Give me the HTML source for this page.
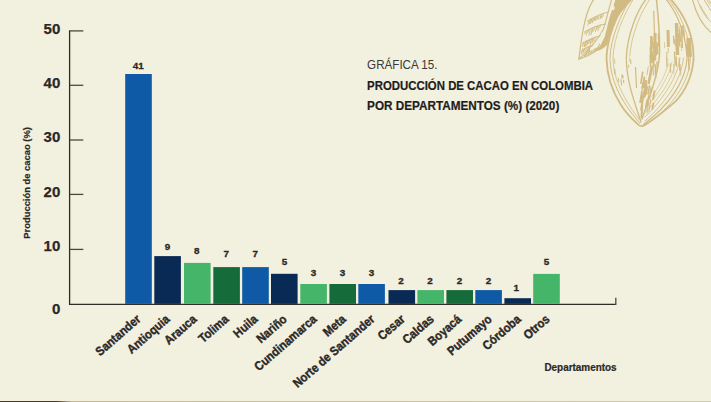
<!DOCTYPE html>
<html><head><meta charset="utf-8"><title>Gráfica 15</title>
<style>
html,body{margin:0;padding:0;background:#f2f0df;}
body{width:711px;height:402px;position:relative;overflow:hidden;}
#bl{position:absolute;left:0;top:401px;width:711px;height:1px;background:linear-gradient(90deg,#4a3a2c 0,#4a3a2c 8%,#cdb58a 10%,#d8c9a4 100%);}
</style></head><body>
<svg width="711" height="402" viewBox="0 0 711 402" style="position:absolute;left:0;top:0">
<g fill="none" stroke="#d2bb82" stroke-width="1.2" stroke-linecap="round" stroke-linejoin="round">
<path d="M627 -2C617 14 607 38 606.5 58C606.8 74 610 88 621 105C626 113 632 119 636.5 123C638.5 125.5 640.5 126.8 643 126C650 122.5 662 113 675.6 101.4C686 90 692 76 693.5 60C694 40 688 18 669.5 -2" stroke-width="1.8"/>
<path d="M631 -2C621 14 610.5 38 610 58C610.5 78 618 98 640 123.5" stroke-width="1"/>
<path d="M634 -2C624 14 613.5 38 613 58C613.5 76 620 94 639.5 120" stroke-width="0.8"/>
<path d="M647 -2C637 10 627 36 626.3 58C626.5 80 633 98 641 122" stroke-width="1.3"/>
<path d="M651 -2C641 10 631 36 629.8 56" stroke-width="0.8"/>
<path d="M656.3 -2C658.5 18 660.2 36 659.4 56C658 74 650 96 642 119" stroke-width="1.5"/>
<path d="M653.7 11L654.5 34" stroke-width="1.2"/>
<path d="M665 -2C677 12 686 34 687 58C686 82 668 106 643.5 124.5" stroke-width="1.2"/>
<path d="M667 -2C680 12 689.5 34 690.4 58C689.5 84 670 109 645.5 125" stroke-width="0.9"/>
<path d="M683.5 58C681 82 664 104 645 121" stroke-width="0.9"/>
<path d="M680 58C677 80 661 101 645 117" stroke-width="0.8"/>
<path d="M676 60C673 80 659 98 646 112" stroke-width="0.7"/>
<path d="M672 62C669 78 657 95 647 107" stroke-width="0.6"/>
<path d="M668 64C665 78 656 91 648 101" stroke-width="0.6"/>
</g>
<g fill="none" stroke="#d2bb82" stroke-linecap="butt">
<path d="M652.8 37.1l0.2 11.2" stroke-width="0.9"/>
<path d="M654.6 44.4l0.1 6.5" stroke-width="1.5"/>
<path d="M650.3 46.7l0.1 6.6" stroke-width="0.9"/>
<path d="M653.6 60.1l0.1 7.0" stroke-width="1.1"/>
<path d="M655.3 64.2l0.2 10.6" stroke-width="1.4"/>
<path d="M658.3 33.6l0.3 12.9" stroke-width="1.2"/>
<path d="M651.2 36.0l0.2 8.5" stroke-width="1.9"/>
<path d="M651.5 51.8l0.2 11.1" stroke-width="1.3"/>
<path d="M654.7 34.1l0.1 6.5" stroke-width="1.1"/>
<path d="M655.8 46.5l0.2 8.5" stroke-width="1.6"/>
<path d="M653.9 42.2l0.2 12.4" stroke-width="1.8"/>
<path d="M652.1 51.5l0.2 10.2" stroke-width="2.0"/>
<path d="M656.2 41.8l0.3 13.8" stroke-width="1.0"/>
<path d="M653.6 57.7l0.1 7.2" stroke-width="1.5"/>
<path d="M650.3 54.7l0.2 12.1" stroke-width="1.6"/>
<path d="M657.4 42.7l0.2 11.6" stroke-width="1.6"/>
<path d="M654.9 47.5l0.3 12.7" stroke-width="2.1"/>
<path d="M654.0 54.6l0.1 6.5" stroke-width="1.8"/>
<path d="M655.5 65.8l0.3 12.6" stroke-width="1.2"/>
<path d="M653.3 54.7l0.1 6.2" stroke-width="1.4"/>
<path d="M651.4 36.0l0.1 6.5" stroke-width="1.9"/>
<path d="M651.1 40.4l0.2 9.1" stroke-width="2.0"/>
<path d="M650.7 47.3l0.2 10.4" stroke-width="2.0"/>
<path d="M657.0 61.4l0.2 8.2" stroke-width="1.4"/>
<path d="M653.0 62.1l0.3 13.7" stroke-width="1.0"/>
<path d="M651.5 39.9l0.2 7.9" stroke-width="1.5"/>
<path d="M655 33V50" stroke-width="3"/>
<path d="M651.5 40V56" stroke-width="2"/>
<path d="M668 30L668.4 47" stroke-width="3"/>
<path d="M668.1 47.9l0.2 5.0" stroke-width="0.9"/>
<path d="M666.6 57.0l0.3 9.8" stroke-width="1.0"/>
<path d="M667.6 58.5l0.3 8.4" stroke-width="0.6"/>
<path d="M670.3 63.4l0.3 9.4" stroke-width="1.1"/>
<path d="M666.7 52.0l0.2 5.5" stroke-width="1.0"/>
<path d="M664.4 42.0l0.2 6.0" stroke-width="0.7"/>
<path d="M676.5 23L677.5 55" stroke-width="3.4"/>
<path d="M681.5 26L682.3 48" stroke-width="1.6"/>
<path d="M688.5 38L689.3 57" stroke-width="4.5"/>
<path d="M679.1 26.2l0.4 6.0" stroke-width="0.8"/>
<path d="M674.8 39.3l0.4 6.2" stroke-width="1.5"/>
<path d="M684.1 30.2l0.5 8.0" stroke-width="0.9"/>
<path d="M679.6 29.2l0.8 12.8" stroke-width="1.6"/>
<path d="M681.4 44.3l0.4 6.7" stroke-width="0.7"/>
<path d="M679.2 35.1l0.8 12.6" stroke-width="0.8"/>
<path d="M673.4 63.9l0.6 10.2" stroke-width="0.7"/>
<path d="M682.8 25.1l0.6 10.2" stroke-width="1.6"/>
<path d="M688.5 53.2l0.5 8.1" stroke-width="1.0"/>
<path d="M676.0 56.4l0.6 10.3" stroke-width="1.4"/>
<path d="M678.9 33.4l0.7 12.5" stroke-width="1.6"/>
<path d="M688.3 57.9l0.8 12.5" stroke-width="1.3"/>
<path d="M677.1 45.7l0.5 8.8" stroke-width="0.6"/>
<path d="M673.5 35.7l0.5 8.1" stroke-width="1.3"/>
<path d="M690.2 42.8l0.8 13.5" stroke-width="1.6"/>
<path d="M690.2 39.3l0.5 7.8" stroke-width="0.8"/>
<path d="M676.5 32.6l0.7 11.0" stroke-width="1.5"/>
<path d="M688.1 44.1l0.7 11.2" stroke-width="1.4"/>
<path d="M674.5 51.7l0.8 13.3" stroke-width="1.4"/>
<path d="M686.5 44.1l0.4 7.4" stroke-width="1.4"/>
<path d="M679.0 57.6l0.8 13.8" stroke-width="1.0"/>
<path d="M680.2 63.8l0.7 11.8" stroke-width="0.8"/>
<path d="M642.8 71.7l-2.0 12.2" stroke-width="1.7"/>
<path d="M643.0 97.4l-2.1 12.8" stroke-width="1.6"/>
<path d="M645.9 86.8l-1.0 6.0" stroke-width="0.7"/>
<path d="M654.6 90.7l-1.5 9.2" stroke-width="1.9"/>
<path d="M647.1 99.1l-1.9 11.6" stroke-width="1.0"/>
<path d="M644.5 77.1l-1.1 6.9" stroke-width="1.5"/>
<path d="M644.6 81.9l-1.0 6.0" stroke-width="1.9"/>
<path d="M646.0 83.4l-1.5 9.7" stroke-width="1.9"/>
<path d="M646.9 100.9l-1.4 9.0" stroke-width="1.4"/>
<path d="M648.3 66.7l-1.4 8.5" stroke-width="0.9"/>
<path d="M641.1 96.4l-1.0 6.4" stroke-width="1.3"/>
<path d="M651.2 87.1l-1.2 7.6" stroke-width="1.4"/>
<path d="M648.8 95.8l-0.9 5.8" stroke-width="1.4"/>
<path d="M644.5 76.5l-1.8 11.2" stroke-width="1.4"/>
<path d="M648.9 94.9l-2.0 12.3" stroke-width="1.3"/>
<path d="M649.6 85.2l-1.5 9.1" stroke-width="1.6"/>
<path d="M647.3 86.3l-1.4 8.8" stroke-width="1.9"/>
<path d="M650.8 99.3l-2.0 12.5" stroke-width="1.0"/>
<path d="M648.8 101.8l-1.9 11.7" stroke-width="0.9"/>
<path d="M642.7 82.8l-0.9 5.6" stroke-width="1.0"/>
<path d="M642.0 91.4l-1.8 11.3" stroke-width="1.9"/>
<path d="M643.2 93.2l-1.6 10.3" stroke-width="0.9"/>
<path d="M653.4 102.8l-1.1 6.8" stroke-width="1.9"/>
<path d="M646.6 84.5l-2.1 12.9" stroke-width="1.8"/>
<path d="M643.3 82.4l-1.5 9.1" stroke-width="1.1"/>
<path d="M643.7 78.1l-1.7 10.8" stroke-width="0.7"/>
<path d="M652 66L648.5 84" stroke-width="2.6"/>
<path d="M646 80L643.5 98" stroke-width="2.2"/>
<path d="M642.5 96L641.5 118" stroke-width="2"/>
<path d="M621.9 74.4l0.3 3.1" stroke-width="1.1"/>
<path d="M622.4 75.1l0.3 3.3" stroke-width="1.8"/>
<path d="M623.5 79.7l0.3 3.4" stroke-width="1.1"/>
<path d="M618.3 77.8l0.4 4.1" stroke-width="0.9"/>
<path d="M621.0 79.1l0.6 6.3" stroke-width="1.1"/>
<path d="M635.5 67L636.5 88" stroke-width="1.2"/>
<path d="M614.9 69.0l0.2 4.7" stroke-width="0.9"/>
<path d="M614.5 58.7l0.3 5.1" stroke-width="0.8"/>
<path d="M614.4 69.3l0.2 4.9" stroke-width="0.9"/>
<path d="M628.5 64.6l0.2 3.2" stroke-width="0.9"/>
<path d="M630.7 59.4l0.2 4.7" stroke-width="1.0"/>
<path d="M629.6 57.3l0.2 4.6" stroke-width="0.7"/>
</g>
<g fill="none" stroke="#d2bb82" stroke-width="1.2" stroke-linecap="round" stroke-linejoin="round">
<path d="M595 -2C586 8 582 32 578.9 59.2C590 56 600 50 607.5 39"/>
<path d="M578.9 59.2C588 50 597 42 603.2 29.6C606 22 608 12 612 -2" stroke-width="1.1"/>
<path d="M608 12C600 14 594 17 587.5 21" stroke-width="1"/>
<path d="M605.5 24C598 25 591 28 584.5 32" stroke-width="1"/>
<path d="M600 36C594 37 588 40 582.5 44" stroke-width="1"/>
<path d="M593 45C588 46 584 49 581 52" stroke-width="1"/>
</g>
<path d="M616 -2L634 -2C626 6 619 14 614 24C610 33 608.5 40 607.5 44C604 48 601 50 597 51C600 46 603 41 605 36C607 28 609 18 612 10Z" fill="#d2bb82"/>
<path d="M611 6C613 4 615 5 614.5 9C613.5 11 611 11 611 6Z" fill="#f2f0df"/>
<path d="M601 33C603 31 605 33 604 37C602.5 40 600 39 601 33Z" fill="#f2f0df"/>
<g fill="none" stroke="#d2bb82" stroke-linecap="butt">
<path d="M603.8 13.5l-1.4 4.1" stroke-width="0.7"/>
<path d="M602.3 14.1l-1.4 4.6" stroke-width="0.9"/>
<path d="M601.2 14.7l-1.4 4.5" stroke-width="1.0"/>
<path d="M599.3 15.4l-1.4 4.7" stroke-width="0.7"/>
<path d="M597.9 16.0l-1.4 3.6" stroke-width="1.1"/>
<path d="M596.5 16.6l-1.4 4.2" stroke-width="0.9"/>
<path d="M595.3 17.2l-1.4 3.9" stroke-width="1.1"/>
<path d="M593.5 17.8l-1.4 5.2" stroke-width="1.1"/>
<path d="M591.9 18.5l-1.4 5.3" stroke-width="1.0"/>
<path d="M590.8 19.1l-1.4 4.7" stroke-width="1.1"/>
<path d="M589.1 19.7l-1.4 5.7" stroke-width="0.9"/>
<path d="M600.9 24.5l-1.4 3.7" stroke-width="0.8"/>
<path d="M599.2 25.1l-1.4 6.1" stroke-width="0.8"/>
<path d="M597.8 25.7l-1.4 3.8" stroke-width="1.1"/>
<path d="M596.7 26.4l-1.4 5.8" stroke-width="0.8"/>
<path d="M594.8 27.0l-1.4 4.5" stroke-width="0.9"/>
<path d="M593.3 27.6l-1.4 5.1" stroke-width="0.8"/>
<path d="M592.3 28.2l-1.4 6.9" stroke-width="1.0"/>
<path d="M590.3 28.8l-1.4 6.9" stroke-width="0.9"/>
<path d="M588.9 29.5l-1.4 3.5" stroke-width="0.9"/>
<path d="M587.5 30.1l-1.4 5.3" stroke-width="0.8"/>
<path d="M586.0 30.7l-1.4 3.5" stroke-width="0.8"/>
<path d="M595.8 36.5l-1.4 4.9" stroke-width="0.7"/>
<path d="M594.2 37.1l-1.4 4.6" stroke-width="0.8"/>
<path d="M593.1 37.7l-1.4 5.4" stroke-width="1.1"/>
<path d="M591.6 38.4l-1.4 6.0" stroke-width="1.1"/>
<path d="M589.9 39.0l-1.4 4.6" stroke-width="1.2"/>
<path d="M588.3 39.6l-1.4 6.0" stroke-width="1.0"/>
<path d="M586.7 40.2l-1.4 6.4" stroke-width="1.1"/>
<path d="M585.6 40.8l-1.4 6.1" stroke-width="1.1"/>
<path d="M583.8 41.5l-1.4 5.3" stroke-width="1.0"/>
<path d="M590.2 45.5l-1.4 6.3" stroke-width="1.1"/>
<path d="M588.6 46.1l-1.4 6.6" stroke-width="1.0"/>
<path d="M587.1 46.7l-1.4 4.3" stroke-width="0.7"/>
<path d="M585.3 47.4l-1.4 4.8" stroke-width="0.8"/>
<path d="M584.2 48.0l-1.4 5.5" stroke-width="1.0"/>
<path d="M582.6 48.6l-1.4 5.9" stroke-width="0.9"/>
<path d="M584.0 56.5l2.2 -3.0" stroke-width="1.3"/>
<path d="M585.9 55.6l2.2 -5.6" stroke-width="1.1"/>
<path d="M587.8 54.7l2.2 -4.9" stroke-width="1.2"/>
<path d="M589.7 53.8l2.2 -3.2" stroke-width="1.2"/>
<path d="M591.6 52.9l2.2 -3.9" stroke-width="0.8"/>
<path d="M593.5 52.0l2.2 -3.9" stroke-width="1.2"/>
<path d="M595.4 51.1l2.2 -3.7" stroke-width="1.2"/>
<path d="M597.3 50.2l2.2 -6.4" stroke-width="1.1"/>
<path d="M599.2 49.3l2.2 -4.3" stroke-width="1.1"/>
<path d="M601.1 48.4l2.2 -5.4" stroke-width="1.3"/>
<path d="M603.0 47.5l2.2 -5.2" stroke-width="1.2"/>
<path d="M604.9 46.6l2.2 -3.3" stroke-width="0.9"/>
</g>
<g fill="none" stroke="#d2bb82" stroke-width="1.2" stroke-linecap="round">
<path d="M692 -2C696 14 702 26 713 34"/>
<path d="M697 -2C700 9 706 18 713 24" stroke-width="0.9"/>
<path d="M703 -2L713 14" stroke-width="1"/>
<path d="M706 -2l4 7M709 0l3 5M700 5l4 7M704 12l4 6" stroke-width="0.8"/>
</g>
<g stroke="#2f2b26" stroke-width="1.3" fill="none">
<path d="M69.6 30.3V304.3H615.8"/>
</g>
<g stroke="#4d483f" stroke-width="1.3" fill="none">
<path d="M615.8 304.9V297.8"/>
<path d="M70 30.9H83.3"/>
<path d="M70 85.3H83.3"/>
<path d="M70 140.0H83.3"/>
<path d="M70 194.4H83.3"/>
<path d="M70 249.4H83.3"/>
</g>
<rect x="125.20" y="74.0" width="26.6" height="229.9" fill="#0f5aa7"/>
<rect x="154.30" y="256.1" width="26.6" height="47.8" fill="#0a2a56"/>
<rect x="184.00" y="262.9" width="26.6" height="41.0" fill="#45b56a"/>
<rect x="213.30" y="267.1" width="26.6" height="36.8" fill="#166b3a"/>
<rect x="242.20" y="267.1" width="26.6" height="36.8" fill="#0f5aa7"/>
<rect x="271.00" y="273.8" width="26.6" height="30.1" fill="#0a2a56"/>
<rect x="300.30" y="284.0" width="26.6" height="19.9" fill="#45b56a"/>
<rect x="329.40" y="284.0" width="26.6" height="19.9" fill="#166b3a"/>
<rect x="358.30" y="284.0" width="26.6" height="19.9" fill="#0f5aa7"/>
<rect x="388.50" y="290.1" width="26.6" height="13.8" fill="#0a2a56"/>
<rect x="417.40" y="290.1" width="26.6" height="13.8" fill="#45b56a"/>
<rect x="446.40" y="290.1" width="26.6" height="13.8" fill="#166b3a"/>
<rect x="475.30" y="290.1" width="26.6" height="13.8" fill="#0f5aa7"/>
<rect x="504.40" y="298.2" width="26.6" height="5.7" fill="#0a2a56"/>
<rect x="533.20" y="273.9" width="26.6" height="30.0" fill="#45b56a"/>
<g font-family="Liberation Sans, sans-serif" font-weight="700" font-size="9.9" fill="#2b2826" stroke="#2b2826" stroke-width="0.3" text-anchor="middle">
<text x="138.30" y="69.0">41</text>
<text x="167.60" y="250.2">9</text>
<text x="196.80" y="254.3">8</text>
<text x="226.20" y="257.4">7</text>
<text x="255.30" y="257.4">7</text>
<text x="284.50" y="265.2">5</text>
<text x="313.40" y="276.1">3</text>
<text x="342.50" y="276.1">3</text>
<text x="371.60" y="276.1">3</text>
<text x="401.10" y="284.0">2</text>
<text x="430.00" y="284.0">2</text>
<text x="459.60" y="283.9">2</text>
<text x="488.40" y="283.9">2</text>
<text x="516.20" y="290.6">1</text>
<text x="546.50" y="265.0">5</text>
</g>
<g font-family="Liberation Sans, sans-serif" font-weight="700" font-size="15" fill="#2b2826" stroke="#2b2826" stroke-width="0.25" text-anchor="end">
<text x="60.3" y="34.2">50</text>
<text x="60.3" y="87.6">40</text>
<text x="60.3" y="142.4">30</text>
<text x="60.3" y="197.1">20</text>
<text x="60.3" y="251.4">10</text>
<text x="60.3" y="313.8">0</text>
</g>
<g font-family="Liberation Sans, sans-serif" font-weight="700" font-size="12.5" fill="#2b2826" stroke="#2b2826" stroke-width="0.4">
<text transform="translate(100.08 356.40) rotate(-41)" textLength="54.9" lengthAdjust="spacingAndGlyphs">Santander</text>
<text transform="translate(131.55 354.34) rotate(-41)" textLength="51.7" lengthAdjust="spacingAndGlyphs">Antioquia</text>
<text transform="translate(168.79 345.36) rotate(-41)" textLength="38.0" lengthAdjust="spacingAndGlyphs">Arauca</text>
<text transform="translate(202.94 343.57) rotate(-41)" textLength="35.3" lengthAdjust="spacingAndGlyphs">Tolima</text>
<text transform="translate(237.80 338.40) rotate(-41)" textLength="27.4" lengthAdjust="spacingAndGlyphs">Huila</text>
<text transform="translate(260.98 343.71) rotate(-41)" textLength="35.5" lengthAdjust="spacingAndGlyphs">Nariño</text>
<text transform="translate(258.77 371.54) rotate(-41)" textLength="77.9" lengthAdjust="spacingAndGlyphs">Cundinamarca</text>
<text transform="translate(327.39 337.18) rotate(-41)" textLength="25.6" lengthAdjust="spacingAndGlyphs">Meta</text>
<text transform="translate(297.48 388.31) rotate(-41)" textLength="103.5" lengthAdjust="spacingAndGlyphs">Norte de Santander</text>
<text transform="translate(382.25 340.87) rotate(-41)" textLength="31.2" lengthAdjust="spacingAndGlyphs">Cesar</text>
<text transform="translate(406.93 344.54) rotate(-41)" textLength="36.8" lengthAdjust="spacingAndGlyphs">Caldas</text>
<text transform="translate(432.17 346.59) rotate(-41)" textLength="39.9" lengthAdjust="spacingAndGlyphs">Boyacá</text>
<text transform="translate(451.67 355.98) rotate(-41)" textLength="54.2" lengthAdjust="spacingAndGlyphs">Putumayo</text>
<text transform="translate(486.89 350.66) rotate(-41)" textLength="46.1" lengthAdjust="spacingAndGlyphs">Córdoba</text>
<text transform="translate(527.92 340.03) rotate(-41)" textLength="29.9" lengthAdjust="spacingAndGlyphs">Otros</text>
</g>
<text font-family="Liberation Sans, sans-serif" font-weight="700" font-size="9.6" fill="#2b2826" stroke="#2b2826" stroke-width="0.2" textLength="111.6" lengthAdjust="spacingAndGlyphs" transform="translate(30 238.7) rotate(-90)">Producción de cacao (%)</text>
<text font-family="Liberation Sans, sans-serif" font-weight="700" font-size="10.2" fill="#2b2826" stroke="#2b2826" stroke-width="0.2" textLength="72.2" lengthAdjust="spacingAndGlyphs" x="544.4" y="370.9">Departamentos</text>
<text font-family="Liberation Sans, sans-serif" font-size="12.4" fill="#3a3735" textLength="70.4" lengthAdjust="spacingAndGlyphs" x="367.1" y="69.3">GRÁFICA 15.</text>
<text font-family="Liberation Sans, sans-serif" font-weight="700" font-size="12.6" fill="#1f1d1c" stroke="#1f1d1c" stroke-width="0.2" textLength="226" lengthAdjust="spacingAndGlyphs" x="367.1" y="90.2">PRODUCCIÓN DE CACAO EN COLOMBIA</text>
<text font-family="Liberation Sans, sans-serif" font-weight="700" font-size="12.6" fill="#1f1d1c" stroke="#1f1d1c" stroke-width="0.2" textLength="192.2" lengthAdjust="spacingAndGlyphs" x="367.1" y="110.1">POR DEPARTAMENTOS (%) (2020)</text>
</svg>
<div id="bl"></div>
</body></html>
